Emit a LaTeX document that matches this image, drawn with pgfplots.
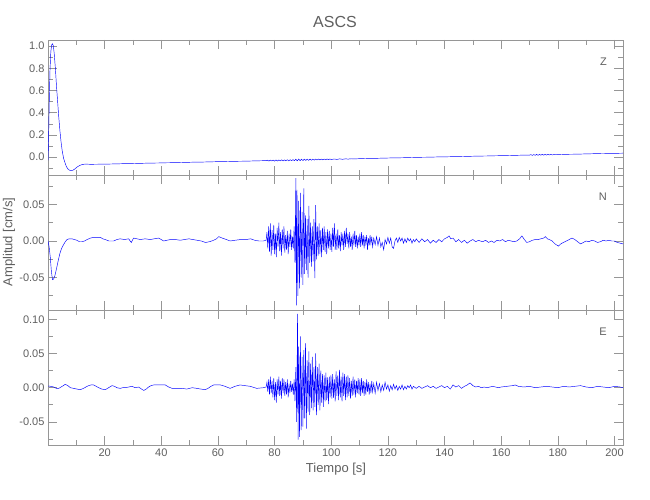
\documentclass[border=0pt]{standalone}
\usepackage{fontspec}
\setmainfont{Liberation Sans}
\usepackage{pgfplots}
\usepackage{pgfplotstable}
\pgfplotsset{compat=1.18}
\definecolor{axgray}{RGB}{150,150,150}
\definecolor{txtgray}{RGB}{95,95,95}
\pgfplotsset{
 panel/.style={
  width=575pt, height=135pt, scale only axis, xmin=0, xmax=203,
  xtick={20,40,60,80,100,120,140,160,180,200},
  minor xtick={10,30,50,70,90,110,130,150,170,190},
  scaled ticks=false,
  tick align=inside, major tick length=9pt, minor tick length=5pt,
  xtick pos=both, ytick pos=both,
  axis line style={axgray, line width=0.6pt},
  every tick/.style={axgray, line width=0.6pt},
  tick label style={font=\fontsize{11}{12}\selectfont, color=txtgray},
  /pgf/number format/assume math mode=true,
  /pgf/number format/fixed,
  /pgf/number format/fixed zerofill,
  anchor=south west,
 },
 trace/.style={color=blue, line width=0.45pt, mark=none},
}
\pgfplotstableread{
x y
0 -0.03
0.2 0.15
0.4 0.45
0.7 0.78
1.0 0.95
1.3 1.01
1.6 1.02
1.9 1.0
2.2 0.93
2.6 0.80
3.0 0.64
3.4 0.50
3.8 0.36
4.2 0.24
4.6 0.14
5.0 0.06
5.5 -0.01
6.0 -0.05
6.5 -0.085
7.0 -0.105
7.6 -0.117
8.2 -0.12
8.8 -0.117
9.5 -0.105
10.3 -0.088
11.2 -0.074
12.2 -0.065
13.2 -0.062
15 -0.064
18 -0.063
21 -0.062
24 -0.060
27 -0.058
30 -0.057
33 -0.055
36 -0.053
39 -0.052
42 -0.050
45 -0.049
48 -0.047
51 -0.045
54 -0.044
57 -0.042
60 -0.040
63 -0.039
66 -0.037
69 -0.036
72 -0.034
75 -0.032
77 -0.031
77.5 -0.027
78 -0.035
78.5 -0.026
79 -0.034
79.5 -0.026
80 -0.035
80.5 -0.025
81 -0.034
81.5 -0.025
82 -0.033
82.5 -0.024
83 -0.033
83.5 -0.024
84 -0.032
84.5 -0.023
85 -0.032
85.5 -0.023
86 -0.031
86.5 -0.022
87 -0.031
87.5 -0.018
88 -0.033
88.5 -0.017
89 -0.031
89.5 -0.018
90 -0.030
90.5 -0.018
91 -0.029
91.5 -0.018
92 -0.028
92.5 -0.017
93 -0.027
93.5 -0.018
94 -0.026
94.5 -0.017
95 -0.025
95.5 -0.017
96 -0.024
96.5 -0.017
97 -0.023
97.5 -0.017
98 -0.023
98.5 -0.016
99 -0.022
99.5 -0.016
100 -0.021
101 -0.016
102 -0.020
103 -0.015
104 -0.019
105 -0.015
106 -0.017
107 -0.014
108 -0.016
110 -0.013
113 -0.011
116 -0.010
119 -0.008
122 -0.006
125 -0.005
128 -0.003
131 -0.001
134 0.000
137 0.002
140 0.003
143 0.005
146 0.006
149 0.008
152 0.010
155 0.011
158 0.013
161 0.014
164 0.016
167 0.018
170 0.019
170.5 0.023
171 0.016
171.5 0.024
172 0.017
172.5 0.025
173 0.017
173.5 0.025
174 0.018
174.5 0.026
175 0.018
175.5 0.026
176 0.019
176.5 0.026
177 0.020
177.5 0.026
178 0.021
179 0.025
180 0.023
183 0.026
186 0.027
189 0.029
192 0.031
195 0.033
198 0.034
201 0.035
203 0.036
}\dataZ
\pgfplotstableread{
x y
0 0.0
0.4 -0.008
0.8 -0.022
1.2 -0.042
1.6 -0.053
2.0 -0.052
2.4 -0.048
3.0 -0.038
3.6 -0.027
4.2 -0.017
4.8 -0.010
5.5 -0.005
6.1 -0.001
6.7 0.002
7.5 0.003
8.5 0.003
9.3 0.002
10.2 0.001
11.1 -0.001
12.0 -0.001
12.9 0.000
13.8 0.002
15.0 0.004
16.1 0.005
17.3 0.005
18.5 0.005
19.3 0.003
20.2 0.002
21.5 0.000
23.2 0.000
24.3 0.002
25.5 0.003
27.0 0.002
28.5 0.003
29.0 0.000
29.4 -0.002
29.8 0.001
30.2 0.004
31.4 0.003
32.6 0.002
34.3 0.003
36.1 0.002
37.5 0.003
39.0 0.004
40.0 0.002
40.8 0.000
42.0 0.001
43.2 0.002
45.0 0.002
46.7 0.001
48.2 0.002
49.7 0.003
51.2 0.002
52.6 0.001
54.1 0.000
55.6 -0.002
57.0 -0.001
58.5 0.001
59.5 0.003
60.3 0.006
61.5 0.004
63.0 0.002
64.3 0.000
66.0 0.001
68.0 0.002
70.0 0.002
71.5 0.003
73.0 0.001
74.5 0.000
76.0 0.000
77.0 0.001
77.3 0.012
77.6 -0.010
77.9 0.020
78.2 -0.015
78.5 0.024
78.8 -0.020
79.1 0.015
79.4 -0.012
79.7 0.022
80.0 -0.018
80.3 0.010
80.6 -0.022
80.9 0.018
81.2 -0.008
81.5 0.025
81.8 -0.014
82.1 0.012
82.4 -0.020
82.7 0.016
83.0 -0.010
83.3 0.020
83.6 -0.016
83.9 0.008
84.2 -0.012
84.5 0.014
84.8 -0.018
85.1 0.010
85.4 -0.008
85.7 0.016
86.0 -0.012
86.3 0.006
86.6 -0.010
86.9 0.020
87.2 -0.030
87.5 0.086
87.7 -0.088
87.9 0.070
88.2 -0.075
88.5 0.055
88.8 -0.065
89.1 0.066
89.4 -0.050
89.7 0.040
90.0 -0.060
90.3 0.072
90.6 -0.045
90.9 0.035
91.2 -0.040
91.5 0.030
91.8 -0.050
92.1 0.048
92.4 -0.030
92.7 0.025
93.0 -0.035
93.3 0.020
93.6 -0.028
93.9 0.030
94.2 -0.051
94.5 0.049
94.8 -0.025
95.1 0.020
95.4 -0.020
95.7 0.024
96.0 -0.018
96.3 0.015
96.6 -0.022
96.9 0.018
97.2 -0.012
97.5 0.020
97.8 -0.015
98.1 0.012
98.4 -0.018
98.7 0.016
99.0 -0.010
99.3 0.014
99.6 -0.012
99.9 0.010
100.2 -0.015
100.5 0.018
100.8 -0.008
101.1 0.024
101.4 -0.012
101.7 0.010
102.0 -0.012
102.3 0.016
102.6 -0.010
102.9 0.008
103.2 -0.014
103.5 0.012
103.8 -0.006
104.1 0.010
104.4 -0.012
104.7 0.014
105.0 -0.008
105.3 0.018
105.6 -0.004
105.9 0.010
106.2 -0.010
106.5 0.012
106.8 -0.008
107.1 0.006
107.4 -0.012
107.7 0.010
108.0 -0.006
108.3 0.014
108.6 -0.008
108.9 0.008
109.2 -0.010
109.5 0.006
109.8 -0.006
110.1 0.010
110.4 -0.008
110.7 0.012
111.0 -0.006
111.3 0.008
111.6 -0.010
111.9 0.006
112.2 -0.004
112.5 0.008
112.8 -0.012
113.1 0.004
113.4 -0.006
113.7 0.008
114.0 -0.004
114.3 0.006
114.6 -0.008
115.0 0.004
115.5 -0.005
116.0 0.006
116.5 -0.006
117.0 0.004
117.5 -0.008
118.0 -0.002
118.5 -0.012
119.0 0.002
119.5 -0.004
120.0 0.005
120.5 -0.003
121.0 0.004
121.5 -0.008
122.0 -0.010
122.5 0.000
123.0 0.004
123.5 -0.002
124.0 0.005
124.5 0.000
125.0 0.004
125.5 -0.003
126.0 0.003
126.5 -0.002
127.0 0.004
127.5 0.000
128.0 0.003
128.5 -0.003
129.0 0.002
129.5 -0.001
130.0 0.003
131 -0.002
132 0.003
133 -0.001
134 0.002
135 -0.003
136 0.001
137 -0.002
138 0.002
139 -0.001
140 0.003
141 0.005
141.6 0.007
142.2 0.003
143 0.004
144 -0.001
145 0.002
146 -0.002
147 0.001
148 -0.003
149 0.000
150 0.002
151 -0.001
152 0.001
152.6 0.000
153.5 -0.001
154.5 0.001
155.5 -0.002
156.5 0.000
157.5 -0.002
158.5 0.001
159.5 0.000
160.5 0.002
161.5 -0.001
162.5 0.001
163.5 0.000
164.5 -0.001
165.5 0.000
166.5 0.003
167.3 0.007
168.0 0.003
169 -0.002
170 -0.001
171 0.001
172 0.002
173 0.002
174 0.003
175 0.004
175.6 0.006
176.3 0.003
177 0.002
178 0.000
179 -0.004
180.2 -0.007
181 -0.004
182 -0.002
183 0.000
184 0.002
185 0.004
186 0.002
187 -0.001
188 -0.004
189 -0.002
190 0.000
191 -0.001
192 0.001
193 0.000
194 -0.002
195 -0.001
196 0.001
197 0.000
198 0.001
199 0.000
200 0.000
201 -0.002
202 -0.003
203 -0.004
}\dataN
\pgfplotstableread{
x y
0 0.0025
1.0 0.002
2.0 0.001
3.0 -0.001
3.8 -0.001
4.6 0.001
5.4 0.003
6.1 0.005
7.0 0.003
7.9 0.000
9.0 -0.001
10.2 -0.002
11.4 -0.003
12.5 -0.001
13.4 0.001
14.3 0.003
15.2 0.004
16.1 0.004
17.0 0.002
17.9 0.000
19.0 -0.002
20.2 -0.003
21.4 0.000
22.6 0.003
23.5 0.002
24.3 0.000
25.5 -0.001
26.4 0.000
27.3 0.000
28.5 0.001
29.6 0.002
30.8 0.000
32.0 0.001
33.0 -0.002
33.8 -0.004
34.7 -0.002
35.5 0.001
36.4 0.003
37.3 0.004
39.0 0.004
40.5 0.004
41.4 0.004
42.6 0.001
43.8 -0.001
45.5 -0.001
47.3 -0.001
49.0 -0.002
50.9 0.000
52.5 -0.001
54.0 -0.002
55.5 -0.003
56.5 -0.001
57.5 0.002
58.5 0.004
60.0 0.004
60.9 0.004
62.5 0.002
64.3 -0.001
66.0 0.002
67.8 0.004
69.5 0.003
71.4 0.002
73.7 -0.001
76.1 0.000
77.0 0.001
77.3 0.008
77.6 -0.006
77.9 0.012
78.2 -0.010
78.5 0.016
78.8 -0.008
79.1 0.010
79.4 -0.014
79.7 0.014
80.0 -0.018
80.3 0.008
80.6 -0.022
80.9 0.012
81.2 -0.010
81.5 0.016
81.8 -0.012
82.1 0.010
82.4 -0.016
82.7 0.014
83.0 -0.008
83.3 0.012
83.6 -0.012
83.9 0.008
84.2 -0.010
84.5 0.012
84.8 -0.014
85.1 0.006
85.4 -0.008
85.7 0.010
86.0 -0.006
86.3 0.006
86.6 -0.010
86.9 0.012
87.2 -0.020
87.5 0.030
87.8 -0.050
88.1 0.108
88.3 -0.076
88.5 0.060
88.8 -0.072
89.1 0.075
89.4 -0.062
89.7 0.045
90.0 -0.057
90.3 0.055
90.6 -0.045
90.9 0.065
91.2 -0.060
91.5 0.040
91.8 -0.035
92.1 0.053
92.4 -0.040
92.7 0.035
93.0 -0.030
93.3 0.045
93.6 -0.033
93.9 0.030
94.2 -0.028
94.5 0.050
94.8 -0.040
95.1 0.030
95.4 -0.025
95.7 0.035
96.0 -0.033
96.3 0.025
96.6 -0.022
96.9 0.020
97.2 -0.028
97.5 0.018
97.8 -0.020
98.1 0.022
98.4 -0.018
98.7 0.015
99.0 -0.024
99.3 0.016
99.6 -0.014
99.9 0.018
100.2 -0.016
100.5 0.020
100.8 -0.015
101.1 0.012
101.4 -0.020
101.7 0.024
102.0 -0.012
102.3 0.018
102.6 -0.018
102.9 0.026
103.2 -0.014
103.5 0.016
103.8 -0.020
104.1 0.022
104.4 -0.012
104.7 0.020
105.0 -0.018
105.3 0.016
105.6 -0.014
105.9 0.018
106.2 -0.012
106.5 0.014
106.8 -0.016
107.1 0.010
107.4 -0.012
107.7 0.016
108.0 -0.010
108.3 0.012
108.6 -0.014
108.9 0.010
109.2 -0.008
109.5 0.014
109.8 -0.010
110.1 0.012
110.4 -0.012
110.7 0.014
111.0 -0.008
111.3 0.010
111.6 -0.012
111.9 0.008
112.2 -0.010
112.5 0.012
112.8 -0.006
113.1 0.008
113.4 -0.010
113.7 0.006
114.0 -0.008
114.3 0.010
114.6 -0.006
115.0 0.006
115.5 -0.008
116.0 0.008
116.5 -0.004
117.0 0.006
117.5 -0.006
118.0 0.004
118.5 -0.004
119.0 0.008
119.5 -0.002
120.0 0.004
120.5 -0.005
121.0 0.003
121.5 -0.003
122.0 0.005
122.5 -0.002
123.0 0.003
123.5 -0.004
124.0 0.002
124.5 -0.002
125.0 0.004
125.5 -0.003
126.0 0.002
126.5 -0.002
127.0 0.003
127.5 0.000
128.0 0.004
128.5 -0.002
129.0 0.002
130.0 -0.001
131 0.002
132 -0.001
133 0.001
134 0.003
135 0.000
136 0.002
137 -0.001
138 0.001
139 0.003
140 0.000
141 0.002
142 -0.002
143 0.004
144 0.001
145 0.003
146 -0.001
147 0.002
148 0.004
149 0.007
150 0.003
151 0.001
152 0.002
153 0.000
154 0.001
155 0.000
156 0.001
157 0.002
158 0.001
159 0.000
160 0.001
162 0.002
164 0.003
165 0.004
166 0.002
168 0.001
170 0.002
172 0.000
174 0.001
176 0.002
178 0.001
180 0.000
182 0.002
184 0.001
186 0.002
188 0.003
190 0.001
192 0.000
194 0.002
196 0.001
198 0.000
200 0.002
202 0.001
203 0.000
}\dataE
\begin{document}
\begin{tikzpicture}
\path[use as bounding box] (0pt,0pt) rectangle (650pt,500pt);
% Z panel
\begin{axis}[panel, at={(48pt,325pt)},
  ymin=-0.16, ymax=1.054,
  ytick={0,0.2,0.4,0.6,0.8,1.0},
  minor ytick={-0.1,0.1,0.3,0.5,0.7,0.9},
  xticklabels={},
  y tick label style={/pgf/number format/precision=1}]
\addplot[trace] table {\dataZ};
\node[anchor=east, font=\fontsize{11}{12}\selectfont, text=txtgray] at (rel axis cs:0.978,0.84) {Z};
\end{axis}
% N panel
\begin{axis}[panel, at={(48pt,190pt)},
  ymin=-0.0945, ymax=0.0904,
  ytick={-0.05,0,0.05},
  minor ytick={-0.075,-0.025,0.025,0.075},
  xticklabels={},
  y tick label style={/pgf/number format/precision=2}]
\addplot[trace] table {\dataN};
\node[anchor=east, font=\fontsize{11}{12}\selectfont, text=txtgray] at (rel axis cs:0.978,0.84) {N};
\end{axis}
% E panel
\begin{axis}[panel, at={(48pt,55pt)},
  ymin=-0.0838, ymax=0.1136,
  ytick={-0.05,0,0.05,0.10},
  minor ytick={-0.075,-0.025,0.025,0.075},
  y tick label style={/pgf/number format/precision=2},
  x tick label style={/pgf/number format/precision=0}]
\addplot[trace] table {\dataE};
\node[anchor=east, font=\fontsize{11}{12}\selectfont, text=txtgray] at (rel axis cs:0.978,0.84) {E};
\end{axis}
\node[font=\fontsize{16}{18}\selectfont, text=txtgray] at (335pt,478pt) {ASCS};
\node[font=\fontsize{13}{14}\selectfont, text=txtgray] at (336pt,31pt) {Tiempo [s]};
\node[rotate=90, font=\fontsize{13}{14}\selectfont, text=txtgray] at (9pt,258pt) {Amplitud [cm/s]};
\end{tikzpicture}
\end{document}
